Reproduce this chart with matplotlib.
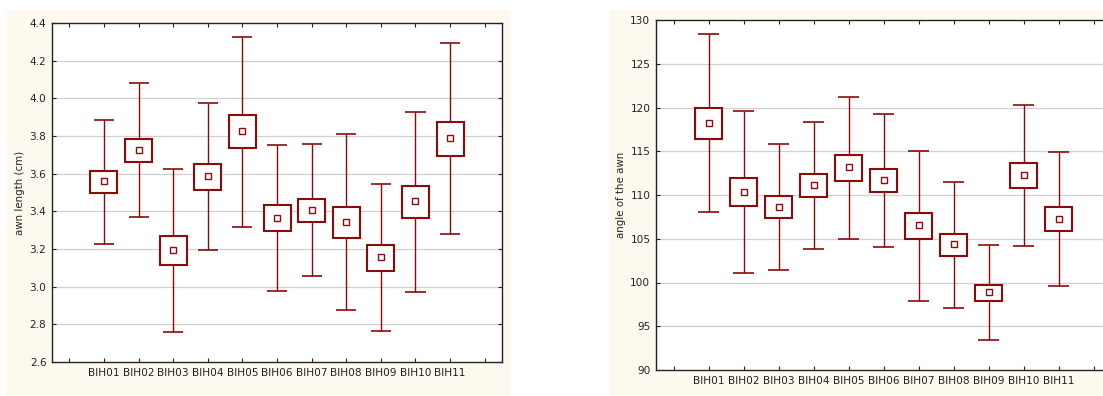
import numpy as np
import matplotlib
matplotlib.use("Agg")
import matplotlib.pyplot as plt
from matplotlib.patches import Rectangle

labels = ["BIH01", "BIH02", "BIH03", "BIH04", "BIH05", "BIH06",
          "BIH07", "BIH08", "BIH09", "BIH10", "BIH11"]

# awn length (cm): mean, box (mean +/- SE), whiskers
awn_mean = [3.561, 3.727, 3.193, 3.587, 3.826, 3.365, 3.407, 3.342, 3.156, 3.453, 3.789]
awn_box_hi = [3.616, 3.785, 3.271, 3.653, 3.912, 3.435, 3.467, 3.425, 3.223, 3.536, 3.875]
awn_box_lo = [3.497, 3.660, 3.114, 3.513, 3.734, 3.296, 3.343, 3.257, 3.082, 3.363, 3.693]
awn_wh_hi = [3.886, 4.080, 3.626, 3.976, 4.328, 3.752, 3.759, 3.812, 3.543, 3.930, 4.292]
awn_wh_lo = [3.229, 3.368, 2.759, 3.193, 3.319, 2.978, 3.054, 2.874, 2.762, 2.972, 3.280]

# angle of the awn
ang_mean = [118.19, 110.34, 108.67, 111.10, 113.16, 111.71, 106.53, 104.40, 98.88, 112.29, 107.30]
ang_box_hi = [119.98, 111.98, 109.92, 112.44, 114.57, 112.97, 107.98, 105.58, 99.75, 113.70, 108.67]
ang_box_lo = [116.40, 108.70, 107.33, 109.73, 111.60, 110.30, 104.97, 103.03, 97.89, 110.80, 105.89]
ang_wh_hi = [128.36, 119.64, 115.87, 118.38, 121.24, 119.22, 115.07, 111.52, 104.29, 120.29, 114.95]
ang_wh_lo = [108.06, 101.05, 101.47, 103.79, 104.93, 104.06, 97.92, 97.12, 93.43, 104.21, 99.64]

RED = "#8b0a0a"
CREAM = "#fdf9ee"
W, H = 1103, 396


def draw_panel(ax, mean, bhi, blo, whi, wlo, ylim, yticks, ylabel, fmt):
    x = np.arange(1, len(labels) + 1)
    ax.set_zorder(2)
    ax.set_facecolor("white")
    for yv in yticks[1:-1]:
        ax.axhline(yv, color="#d0d0d0", lw=0.9, zorder=0)
    ax.vlines(x, bhi, whi, color=RED, lw=1.0, zorder=2)
    ax.vlines(x, wlo, blo, color=RED, lw=1.0, zorder=2)
    ax.hlines(whi, x - 0.29, x + 0.29, color=RED, lw=1.2, zorder=2)
    ax.hlines(wlo, x - 0.29, x + 0.29, color=RED, lw=1.2, zorder=2)
    ax.bar(x, np.array(bhi) - np.array(blo), bottom=blo, width=0.78,
           facecolor="white", edgecolor=RED, lw=1.5, zorder=3)
    ax.plot(x, mean, ls="none", marker="s", ms=4, mfc="white",
            mec=RED, mew=1.0, zorder=4)
    ax.set_xlim(-0.5, 12.5)
    ax.set_ylim(*ylim)
    ax.set_xticks(np.arange(0, 13))
    ax.set_xticklabels([""] + labels + [""])
    ax.set_yticks(yticks)
    ax.set_yticklabels([fmt % v for v in yticks])
    ax.tick_params(direction="in", top=True, right=True, length=3,
                   width=0.8, labelsize=7.6, pad=4, colors="#222222")
    for s in ax.spines.values():
        s.set_color("#222222")
        s.set_linewidth(1.0)
    ax.set_ylabel(ylabel, fontsize=7.4, color="#222222", labelpad=3)


def main():
    plt.rcParams["font.family"] = ["DejaVu Sans"]
    fig = plt.figure(figsize=(W / 100, H / 100), dpi=100)
    fig.patch.set_facecolor("white")

    fig.patches.append(Rectangle((7 / W, 0), (510 - 7) / W, (396 - 10) / H,
                                 transform=fig.transFigure, facecolor=CREAM,
                                 edgecolor="none", zorder=-1))
    fig.patches.append(Rectangle((610 / W, 0), (W - 610) / W, (396 - 10) / H,
                                 transform=fig.transFigure, facecolor=CREAM,
                                 edgecolor="none", zorder=-1))

    ax1 = fig.add_axes([52 / W, (H - 362) / H, (502 - 52) / W, (362 - 23) / H])
    draw_panel(ax1, awn_mean, awn_box_hi, awn_box_lo, awn_wh_hi, awn_wh_lo,
               (2.6, 4.4), np.round(np.arange(2.6, 4.41, 0.2), 1),
               "awn length (cm)", "%.1f")

    ax2 = fig.add_axes([656 / W, (H - 370) / H, (1111 - 656) / W, (370 - 20) / H])
    draw_panel(ax2, ang_mean, ang_box_hi, ang_box_lo, ang_wh_hi, ang_wh_lo,
               (90, 130), np.arange(90, 131, 5),
               "angle of the awn", "%d")

    fig.savefig("out.png", dpi=100)
    plt.close(fig)


if __name__ == "__main__":
    main()
